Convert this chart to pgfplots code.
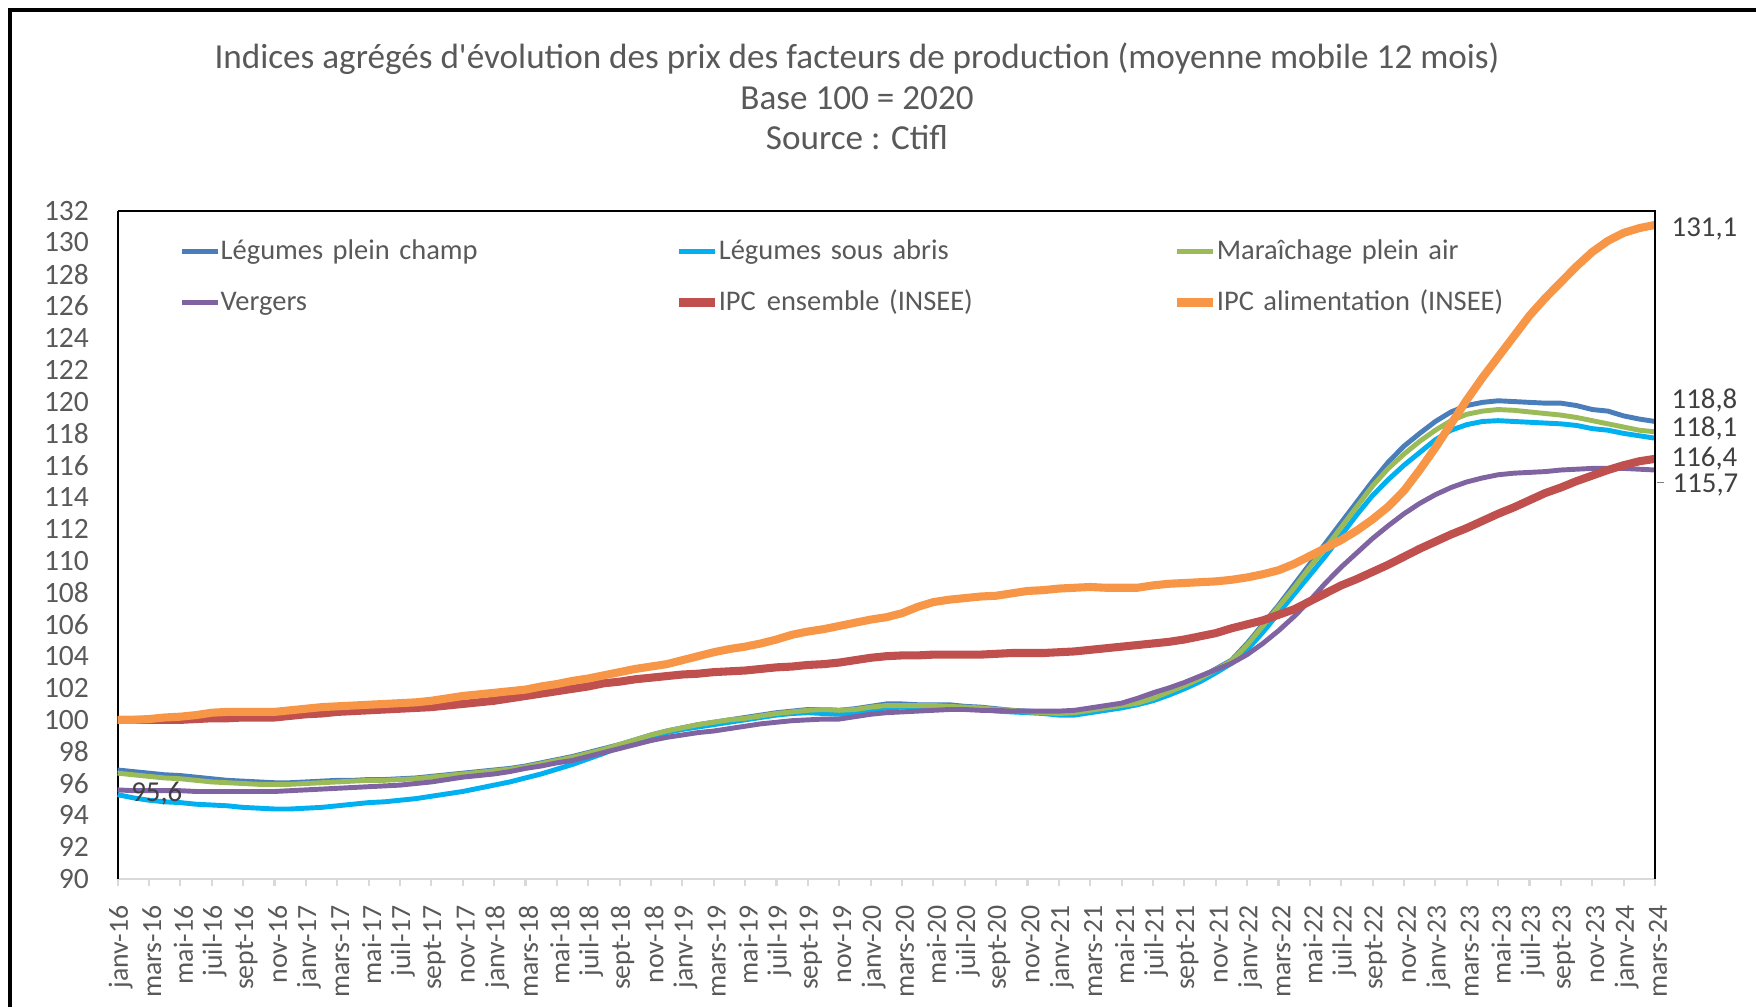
\documentclass[border=0pt]{standalone}
\usepackage{fontspec}
\setmainfont{Carlito}
\usepackage{pgfplots}
\pgfplotsset{compat=1.18}
\usepackage{pgfplotstable}
\definecolor{cBlue}{HTML}{4A7EBB}
\definecolor{cCyan}{HTML}{00B0F0}
\definecolor{cGreen}{HTML}{9BBB59}
\definecolor{cPurple}{HTML}{8064A2}
\definecolor{cRed}{HTML}{C0504D}
\definecolor{cOrange}{HTML}{F79646}
\definecolor{txt}{HTML}{595959}
\definecolor{lab}{HTML}{404040}
\definecolor{axgrey}{HTML}{D9D9D9}

\pgfplotstableread{
i B C G P R O
0 96.85 95.30 96.65 95.60 100.00 100.00
1 96.75 95.10 96.55 95.55 100.00 100.00
2 96.65 94.95 96.45 95.55 100.00 100.05
3 96.55 94.85 96.35 95.55 100.00 100.15
4 96.50 94.80 96.30 95.55 100.00 100.20
5 96.40 94.70 96.20 95.50 100.05 100.30
6 96.30 94.65 96.10 95.50 100.10 100.45
7 96.20 94.60 96.05 95.50 100.10 100.50
8 96.15 94.50 96.00 95.50 100.15 100.50
9 96.10 94.45 95.95 95.50 100.15 100.50
10 96.05 94.40 95.95 95.50 100.15 100.50
11 96.05 94.40 95.95 95.55 100.25 100.60
12 96.10 94.45 96.00 95.60 100.35 100.70
13 96.15 94.50 96.05 95.65 100.40 100.80
14 96.20 94.60 96.10 95.70 100.50 100.85
15 96.20 94.70 96.15 95.75 100.55 100.90
16 96.25 94.80 96.20 95.80 100.60 100.95
17 96.25 94.85 96.20 95.85 100.65 101.00
18 96.30 94.95 96.25 95.90 100.70 101.05
19 96.35 95.05 96.30 96.00 100.75 101.10
20 96.45 95.20 96.40 96.10 100.80 101.20
21 96.55 95.35 96.50 96.25 100.90 101.35
22 96.65 95.50 96.60 96.40 101.00 101.50
23 96.75 95.70 96.70 96.50 101.10 101.60
24 96.85 95.90 96.80 96.60 101.20 101.70
25 96.95 96.10 96.90 96.75 101.35 101.80
26 97.10 96.35 97.05 96.95 101.50 101.90
27 97.30 96.60 97.25 97.10 101.65 102.10
28 97.50 96.90 97.45 97.30 101.80 102.25
29 97.70 97.20 97.65 97.45 101.95 102.45
30 97.95 97.55 97.90 97.70 102.10 102.60
31 98.20 97.90 98.15 97.95 102.30 102.80
32 98.45 98.30 98.45 98.20 102.40 103.00
33 98.75 98.65 98.75 98.45 102.55 103.20
34 99.05 98.95 99.05 98.70 102.65 103.35
35 99.30 99.20 99.30 98.90 102.75 103.50
36 99.50 99.40 99.50 99.05 102.85 103.75
37 99.70 99.55 99.70 99.20 102.90 104.00
38 99.85 99.70 99.85 99.30 103.00 104.25
39 100.00 99.85 100.00 99.45 103.05 104.45
40 100.15 100.00 100.10 99.60 103.10 104.60
41 100.30 100.15 100.25 99.75 103.20 104.80
42 100.45 100.30 100.40 99.85 103.30 105.05
43 100.55 100.40 100.50 99.95 103.35 105.35
44 100.65 100.45 100.60 100.00 103.45 105.55
45 100.65 100.40 100.65 100.05 103.50 105.70
46 100.60 100.35 100.60 100.05 103.60 105.90
47 100.70 100.45 100.65 100.20 103.75 106.10
48 100.85 100.60 100.80 100.35 103.90 106.30
49 101.00 100.75 100.90 100.45 104.00 106.45
50 101.00 100.80 100.90 100.50 104.05 106.70
51 100.95 100.80 100.90 100.55 104.05 107.10
52 100.95 100.80 100.90 100.60 104.10 107.40
53 100.95 100.75 100.85 100.65 104.10 107.55
54 100.85 100.70 100.80 100.65 104.10 107.65
55 100.80 100.65 100.75 100.60 104.10 107.75
56 100.70 100.55 100.65 100.60 104.15 107.80
57 100.60 100.50 100.60 100.55 104.20 107.95
58 100.55 100.45 100.50 100.55 104.20 108.10
59 100.50 100.40 100.45 100.55 104.20 108.15
60 100.45 100.30 100.40 100.55 104.25 108.25
61 100.50 100.30 100.45 100.60 104.30 108.30
62 100.65 100.45 100.60 100.75 104.40 108.35
63 100.80 100.60 100.75 100.90 104.50 108.30
64 100.95 100.75 100.90 101.05 104.60 108.30
65 101.10 100.95 101.05 101.35 104.70 108.30
66 101.40 101.20 101.35 101.70 104.80 108.45
67 101.80 101.55 101.75 102.00 104.90 108.55
68 102.20 101.95 102.15 102.35 105.05 108.60
69 102.65 102.40 102.60 102.75 105.25 108.65
70 103.20 102.95 103.15 103.15 105.45 108.70
71 103.75 103.55 103.70 103.55 105.75 108.80
72 104.80 104.40 104.70 104.10 106.00 108.95
73 106.00 105.50 105.90 104.80 106.25 109.15
74 107.20 106.70 107.10 105.60 106.60 109.40
75 108.50 107.90 108.30 106.50 106.95 109.80
76 109.80 109.10 109.60 107.50 107.45 110.30
77 111.10 110.30 110.80 108.60 107.95 110.80
78 112.40 111.60 112.10 109.60 108.45 111.30
79 113.70 112.90 113.40 110.50 108.85 111.90
80 115.00 114.10 114.70 111.40 109.30 112.60
81 116.20 115.10 115.80 112.20 109.75 113.40
82 117.20 116.00 116.70 112.95 110.25 114.40
83 118.00 116.80 117.50 113.60 110.75 115.70
84 118.75 117.60 118.20 114.15 111.20 117.10
85 119.35 118.20 118.80 114.60 111.65 118.60
86 119.75 118.55 119.20 114.95 112.05 120.10
87 119.95 118.75 119.40 115.20 112.50 121.50
88 120.05 118.80 119.50 115.40 112.95 122.80
89 120.00 118.75 119.45 115.50 113.35 124.10
90 119.95 118.70 119.35 115.55 113.80 125.40
91 119.90 118.65 119.25 115.60 114.25 126.50
92 119.90 118.60 119.15 115.70 114.60 127.50
93 119.75 118.50 119.00 115.75 115.00 128.50
94 119.50 118.30 118.80 115.80 115.35 129.40
95 119.40 118.20 118.60 115.80 115.70 130.10
96 119.10 118.00 118.40 115.80 116.00 130.60
97 118.90 117.85 118.20 115.75 116.25 130.90
98 118.75 117.70 118.10 115.70 116.40 131.10
}\datatable

\begin{document}
\begin{tikzpicture}
\useasboundingbox (0,0) rectangle (175.6mm,100.7mm);
\draw[line width=0.9pt] (1.0mm,0) -- (1.0mm,99.7mm) -- (175.6mm,99.7mm);
\begin{scope}[every node/.style={font=\fontsize{10}{12}\selectfont, text=txt, text height=2.6mm, text depth=0.8mm, inner sep=0pt, anchor=center}]
\node at (85.7mm,94.7mm) {Indices agrégés d\textquotesingle évolution des prix des facteurs de production (moyenne mobile 12 mois)};
\node at (85.7mm,90.65mm) {Base 100 = 2020};
\node at (85.7mm,86.6mm) {Source : Ctifl};
\end{scope}
\begin{axis}[
  at={(11.76mm,12.8mm)}, anchor=south west,
  scale only axis, width=153.74mm, height=66.84mm,
  xmin=0, xmax=98, ymin=90, ymax=132,
  axis x line*=bottom, axis y line*=left,
  x axis line style={axgrey, line width=0.8pt},
  y axis line style={black, line width=0.6pt},
  xtick={0,2,...,98},
  xticklabels={janv-16,mars-16,mai-16,juil-16,sept-16,nov-16,
    janv-17,mars-17,mai-17,juil-17,sept-17,nov-17,
    janv-18,mars-18,mai-18,juil-18,sept-18,nov-18,
    janv-19,mars-19,mai-19,juil-19,sept-19,nov-19,
    janv-20,mars-20,mai-20,juil-20,sept-20,nov-20,
    janv-21,mars-21,mai-21,juil-21,sept-21,nov-21,
    janv-22,mars-22,mai-22,juil-22,sept-22,nov-22,
    janv-23,mars-23,mai-23,juil-23,sept-23,nov-23,
    janv-24,mars-24},
  ytick={90,92,...,132},
  tick align=outside, major tick length=0.7mm,
  xtick style={axgrey, line width=0.6pt},
  ytick style={draw=none},
  xticklabel style={font=\fontsize{7.9}{10}\selectfont, text=txt, rotate=90, anchor=east, inner sep=0pt, xshift=-1.9mm, yshift=-0.3mm},
  yticklabel style={font=\fontsize{8.4}{10}\selectfont, text=txt, inner sep=0pt, xshift=-2.1mm},
  /pgf/number format/assume math mode=true,
  legend columns=3, legend cell align=left,
  legend image code/.code={\draw[#1] (0mm,0mm) -- (3.6mm,0mm);},
  legend style={draw=none, fill=none, at={(0.0400,0.9615)}, anchor=north west,
    font=\fontsize{8.1}{10}\selectfont, text=txt, inner sep=0pt, row sep=2.2mm,
    nodes={inner sep=0pt, text width=45.4mm, text height=2.2mm, text depth=0.7mm}},
  clip=false,
]
\addplot[cBlue, line width=1.4pt] table[x=i, y=B] {\datatable};
\addlegendentry{Légumes plein champ}
\addplot[cCyan, line width=1.4pt] table[x=i, y=C] {\datatable};
\addlegendentry{Légumes sous abris}
\addplot[cGreen, line width=1.4pt] table[x=i, y=G] {\datatable};
\addlegendentry{Maraîchage plein air}
\addplot[cPurple, line width=1.4pt] table[x=i, y=P] {\datatable};
\addlegendentry{Vergers}
\addplot[cRed, line width=2.3pt] table[x=i, y=R] {\datatable};
\addlegendentry{IPC\hspace{1.1mm}ensemble (INSEE)}
\addplot[cOrange, line width=2.3pt] table[x=i, y=O] {\datatable};
\addlegendentry{IPC alimentation (INSEE)}
\draw[black, line width=0.6pt] (rel axis cs:0,1) -- (rel axis cs:1,1) -- (rel axis cs:1,0);
\begin{scope}[every node/.style={font=\fontsize{8.2}{10}\selectfont, text=lab, inner sep=0pt, anchor=west}]
\node[xshift=1.6mm] at (axis cs:98,130.85) {131,1};
\node[xshift=1.6mm] at (axis cs:98,120.05) {118,8};
\node[xshift=1.6mm] at (axis cs:98,118.3) {118,1};
\node[xshift=1.6mm] at (axis cs:98,116.4) {116,4};
\node[xshift=1.7mm] at (axis cs:98,114.75) {115,7};
\node[xshift=1.3mm] at (axis cs:0,95.35) {95,6};
\end{scope}
\draw[gray, line width=0.4pt] ([xshift=0.2mm]axis cs:98,114.9) -- ([xshift=0.9mm]axis cs:98,114.9);
\end{axis}
\end{tikzpicture}
\end{document}
